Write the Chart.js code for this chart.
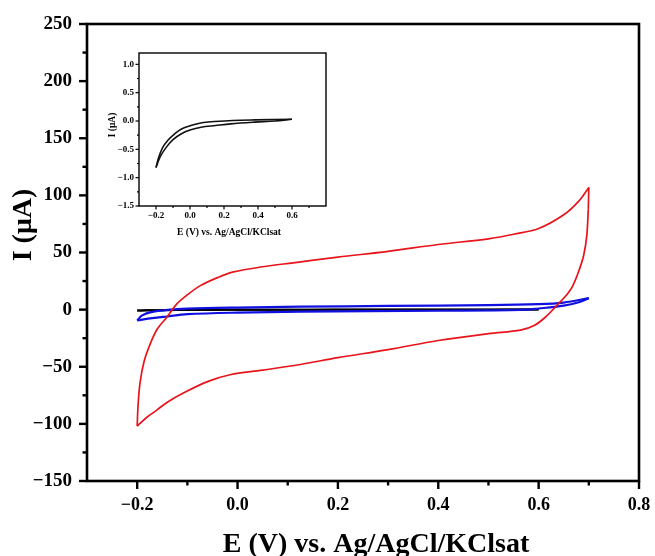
<!DOCTYPE html>
<html>
<head>
<meta charset="utf-8">
<script src="https://cdn.jsdelivr.net/npm/chart.js@4.4.1/dist/chart.umd.min.js"></script>
<style>
  html, body { margin: 0; padding: 0; background: #fff; }
  #wrap { position: relative; width: 655px; height: 556px; }
  #main { position: absolute; left: 0; top: 0; }
  #inset { position: absolute; left: 95px; top: 40px; background: #fff; }
</style>
</head>
<body>
<div id="wrap">
  <canvas id="main" width="655" height="556"></canvas>
  <canvas id="inset" width="240" height="200"></canvas>
</div>
<script>
// ---- data (E in V, I in µA) ----
const redAnodicE = [-0.2, -0.198, -0.194, -0.186, -0.174, -0.16, -0.141, -0.121, -0.1, -0.074, -0.04, -0.008, 0.05, 0.111, 0.2, 0.3, 0.4, 0.5, 0.55, 0.6, 0.65, 0.68, 0.7];
const redAnodicI = [-102, -82, -63, -45, -30, -17, -6.7, 5, 13, 21, 28, 33, 37.5, 41, 46, 51, 57, 62, 66, 71, 83, 95, 107];
const redDropE = [0.7, 0.699];
const redDropI = [107, 88];
const redCathodicE = [0.699, 0.696, 0.69, 0.681, 0.667, 0.652, 0.637, 0.615, 0.591, 0.564, 0.5, 0.4, 0.3, 0.2, 0.125, 0.05, -0.015, -0.06, -0.108, -0.14, -0.161, -0.18, -0.2];
const redCathodicI = [88, 65, 48, 35, 20, 11, 4, -6, -14, -18, -21, -27, -35, -42, -48, -53, -57, -63, -73, -81, -88, -94, -102];

const blueUpperE = [-0.2, -0.19, -0.17, -0.14, -0.1, 0, 0.125, 0.3, 0.5, 0.6, 0.65, 0.7];
const blueUpperI = [-9.5, -5, -2, -0.3, 0.8, 1.8, 2.6, 3.2, 3.9, 4.8, 6.2, 10];
const blueLowerE = [0.7, 0.68, 0.65, 0.6, 0.564, 0.4, 0.125, 0, -0.1, -0.141, -0.17, -0.2];
const blueLowerI = [10, 6.5, 3.5, 1, -0.3, -1, -1.8, -2.6, -4, -6, -7.5, -9.5];

const blackUpperE = [-0.2, -0.185, -0.161, -0.13, -0.092, -0.05, 0.006, 0.07, 0.143, 0.25, 0.38, 0.6];
const blackUpperI = [-0.82, -0.65, -0.47, -0.34, -0.23, -0.14, -0.08, -0.03, -0.01, 0.01, 0.02, 0.03];
const blackLowerE = [0.6, 0.5, 0.38, 0.24, 0.15, 0.065, 0, -0.053, -0.1, -0.141, -0.175, -0.2];
const blackLowerI = [0.03, 0.0, -0.02, -0.05, -0.08, -0.11, -0.16, -0.23, -0.33, -0.47, -0.63, -0.82];

const mainXTicks = [-0.2, 0, 0.2, 0.4, 0.6, 0.8];
const mainXLabels = ["\u22120.2", "0.0", "0.2", "0.4", "0.6", "0.8"];
const mainXMinor = [-0.1, 0.1, 0.3, 0.5, 0.7];
const mainYTicks = [-150, -100, -50, 0, 50, 100, 150, 200, 250];
const mainYLabels = ["\u2212150", "\u2212100", "\u221250", "0", "50", "100", "150", "200", "250"];
const mainYMinor = [-125, -75, -25, 25, 75, 125, 175, 225];

const insetXTicks = [-0.2, 0, 0.2, 0.4, 0.6];
const insetXLabels = ["\u22120.2", "0.0", "0.2", "0.4", "0.6"];
const insetXMinor = [-0.1, 0.1, 0.3, 0.5, 0.7];
const insetYTicks = [-1.5, -1.0, -0.5, 0, 0.5, 1.0];
const insetYLabels = ["\u22121.5", "\u22121.0", "\u22120.5", "0.0", "0.5", "1.0"];
const insetYMinor = [-1.25, -0.75, -0.25, 0.25, 0.75];

const xTitle = "E (V) vs. Ag/AgCl/KClsat";
const yTitle = "I (\u03bcA)";

const SERIF = "'Liberation Serif', 'Times New Roman', serif";

function pts(xs, ys) { return xs.map((x, i) => ({ x: x, y: ys[i] })); }

function line(data, color, width) {
  return {
    data: data, borderColor: color, borderWidth: width,
    showLine: true, pointRadius: 0, tension: 0.35, fill: false
  };
}

// frame, outward ticks and axis titles
const frameTicks = {
  id: "frameTicks",
  afterDraw(chart, args, o) {
    const { ctx, chartArea: a, scales } = chart;
    ctx.save();
    ctx.strokeStyle = "#000";
    ctx.lineWidth = o.lw;
    ctx.lineCap = "square";
    ctx.strokeRect(a.left, a.top, a.right - a.left, a.bottom - a.top);
    ctx.lineCap = "butt";
    const xt = (vals, len) => vals.forEach(v => {
      const x = scales.x.getPixelForValue(v);
      ctx.beginPath(); ctx.moveTo(x, a.bottom); ctx.lineTo(x, a.bottom + len); ctx.stroke();
    });
    const yt = (vals, len) => vals.forEach(v => {
      const y = scales.y.getPixelForValue(v);
      ctx.beginPath(); ctx.moveTo(a.left, y); ctx.lineTo(a.left - len, y); ctx.stroke();
    });
    ctx.lineWidth = o.tw;
    xt(o.xMajor, o.major); xt(o.xMinor, o.minor);
    yt(o.yMajor, o.major); yt(o.yMinor, o.minor);

    ctx.fillStyle = "#000";
    ctx.font = o.titleFont;
    ctx.textAlign = "center";
    ctx.textBaseline = "alphabetic";
    ctx.fillText(xTitle, o.xTitleAt[0], o.xTitleAt[1]);
    ctx.translate(o.yTitleAt[0], o.yTitleAt[1]);
    ctx.rotate(-Math.PI / 2);
    ctx.fillText(yTitle, 0, 0);
    ctx.restore();
  }
};

function axis(min, max, ticks, labels, size, pad, fitKey, fitVal) {
  return {
    type: "linear", min: min, max: max,
    grid: { display: false, drawTicks: false },
    border: { display: false },
    afterBuildTicks: s => { s.ticks = ticks.map(v => ({ value: v })); },
    afterFit: s => {
      s[fitKey] = fitVal;
      s.paddingLeft = 0; s.paddingRight = 0; s.paddingTop = 0; s.paddingBottom = 0;
    },
    ticks: {
      autoSkip: false, maxRotation: 0, padding: pad, color: "#000",
      font: { family: SERIF, size: size, weight: "bold" },
      callback: (v, i) => labels[i]
    }
  };
}

new Chart(document.getElementById("main"), {
  type: "scatter",
  data: {
    datasets: [
      line(pts(redAnodicE, redAnodicI), "#e8141b", 1.7),
      line(pts(redDropE, redDropI), "#e8141b", 1.7),
      line(pts(redCathodicE, redCathodicI), "#e8141b", 1.7),
      line(pts(blueUpperE, blueUpperI), "#1010e0", 2.2),
      line(pts(blueLowerE, blueLowerI), "#1010e0", 2.2),
      line(pts(blackUpperE, blackUpperI), "#000", 2),
      line(pts(blackLowerE, blackLowerI), "#000", 2)
    ]
  },
  options: {
    responsive: false, animation: false, devicePixelRatio: 1,
    layout: { padding: { top: 24, right: 16, left: 0, bottom: 0 } },
    plugins: {
      legend: { display: false }, tooltip: { enabled: false },
      frameTicks: {
        lw: 2.6, tw: 2.4, major: 8, minor: 4.5,
        xMajor: mainXTicks, xMinor: mainXMinor, yMajor: mainYTicks, yMinor: mainYMinor,
        titleFont: "bold 28px " + SERIF, xTitleAt: [376, 552], yTitleAt: [31, 225]
      }
    },
    scales: {
      x: axis(-0.3, 0.8, mainXTicks, mainXLabels, 18, 14, "height", 75),
      y: axis(-150, 250, mainYTicks, mainYLabels, 19, 15, "width", 87)
    }
  },
  plugins: [frameTicks]
});

new Chart(document.getElementById("inset"), {
  type: "scatter",
  data: {
    datasets: [
      line(pts(blackUpperE, blackUpperI), "#111", 1.6),
      line(pts(blackLowerE, blackLowerI), "#111", 1.6)
    ]
  },
  options: {
    responsive: false, animation: false, devicePixelRatio: 1,
    layout: { padding: { top: 13, right: 9, left: 0, bottom: 0 } },
    plugins: {
      legend: { display: false }, tooltip: { enabled: false },
      frameTicks: {
        lw: 1.4, tw: 1.2, major: 3.5, minor: 2,
        xMajor: insetXTicks, xMinor: insetXMinor, yMajor: insetYTicks, yMinor: insetYMinor,
        titleFont: "bold 9.5px " + SERIF, xTitleAt: [134, 195], yTitleAt: [20, 85]
      }
    },
    scales: {
      x: axis(-0.3, 0.8, insetXTicks, insetXLabels, 9, 4, "height", 34),
      y: axis(-1.5, 1.2, insetYTicks, insetYLabels, 9, 5, "width", 44)
    }
  },
  plugins: [frameTicks]
});
</script>
</body>
</html>
